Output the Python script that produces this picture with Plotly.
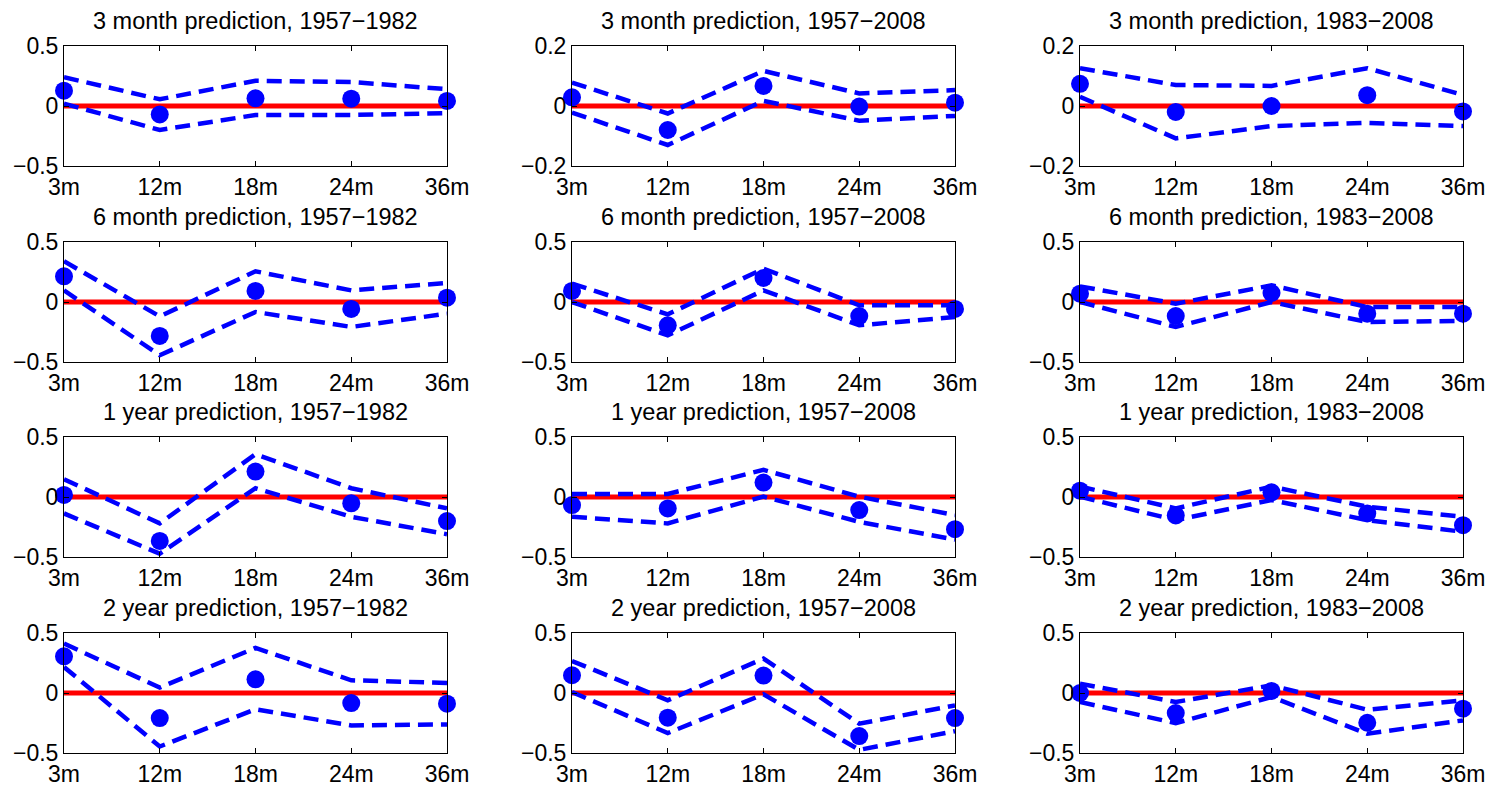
import plotly.graph_objects as go

# ---------------- data ----------------
categories = ["3m", "12m", "18m", "24m", "36m"]
horizons = ["3 month", "6 month", "1 year", "2 year"]
periods = ["1957\u22121982", "1957\u22122008", "1983\u22122008"]
zero_line = [0, 0, 0, 0, 0]

# point estimates per horizon, one list per period (1957-82, 1957-2008, 1983-2008)
est_3month = [[0.128, -0.07, 0.064, 0.061, 0.042],
              [0.029, -0.080, 0.067, -0.002, 0.011],
              [0.074, -0.020, 0.000, 0.036, -0.018]]
upper_3month = [[0.24, 0.056, 0.21, 0.20, 0.14],
                [0.078, -0.025, 0.117, 0.042, 0.053],
                [0.126, 0.070, 0.067, 0.126, 0.037]]
lower_3month = [[0.02, -0.20, -0.075, -0.075, -0.06],
                [-0.022, -0.130, 0.017, -0.049, -0.033],
                [0.031, -0.108, -0.067, -0.056, -0.067]]

est_6month = [[0.214, -0.283, 0.092, -0.058, 0.036],
              [0.092, -0.194, 0.200, -0.117, -0.058],
              [0.069, -0.117, 0.075, -0.097, -0.097]]
upper_6month = [[0.34, -0.12, 0.256, 0.097, 0.158],
                [0.153, -0.103, 0.278, -0.028, -0.028],
                [0.13, -0.014, 0.139, -0.042, -0.042]]
lower_6month = [[0.097, -0.444, -0.083, -0.208, -0.097],
                [0.0, -0.278, 0.097, -0.194, -0.125],
                [0.0, -0.208, 0.0, -0.167, -0.158]]

est_1year = [[0.017, -0.366, 0.212, -0.053, -0.201],
             [-0.067, -0.095, 0.120, -0.109, -0.268],
             [0.053, -0.154, 0.039, -0.137, -0.235]]
upper_1year = [[0.148, -0.22, 0.357, 0.073, -0.095],
               [0.025, 0.025, 0.226, 0.003, -0.15],
               [0.087, -0.095, 0.087, -0.081, -0.165]]
lower_1year = [[-0.137, -0.472, 0.073, -0.165, -0.31],
               [-0.165, -0.22, 0.003, -0.207, -0.355],
               [0.003, -0.193, -0.025, -0.193, -0.29]]

est_2year = [[0.306, -0.209, 0.114, -0.084, -0.089],
             [0.148, -0.206, 0.145, -0.359, -0.209],
             [0.0, -0.167, 0.017, -0.248, -0.131]]
upper_2year = [[0.412, 0.045, 0.376, 0.106, 0.084],
               [0.267, -0.061, 0.287, -0.256, -0.103],
               [0.078, -0.075, 0.064, -0.139, -0.061]]
lower_2year = [[0.217, -0.446, -0.136, -0.27, -0.262],
               [0.008, -0.334, -0.011, -0.474, -0.318],
               [-0.075, -0.251, -0.033, -0.34, -0.228]]

# y-axis tick sets
yticks_wide = [-0.5, 0, 0.5]
yticks_narrow = [-0.2, 0, 0.2]

est_rows = [est_3month, est_6month, est_1year, est_2year]
upper_rows = [upper_3month, upper_6month, upper_1year, upper_2year]
lower_rows = [lower_3month, lower_6month, lower_1year, lower_2year]

# ---------------- layout geometry ----------------
W, H = 1493, 787
col_px = [(64, 447), (572, 955), (1080, 1463)]
row_px = [(46, 166), (242, 362), (437, 557), (633, 753)]

FONT = "Liberation Sans, Arial, Helvetica, sans-serif"
BLUE = "#0000ff"
RED = "#ff0000"

fig = go.Figure()
annotations = []
layout_axes = {}

for r in range(4):
    for c in range(3):
        idx = r * 3 + c + 1
        sfx = "" if idx == 1 else str(idx)
        xref, yref = "x" + sfx, "y" + sfx

        narrow = (r == 0 and c in (1, 2))
        yt = yticks_narrow if narrow else yticks_wide
        yrange = [yt[0], yt[-1]]
        ytext = [("\u2212" + str(abs(v))) if v < 0 else str(v) for v in yt]

        fig.add_trace(go.Scatter(x=categories, y=zero_line, mode="lines",
                                 line=dict(color=RED, width=5),
                                 xaxis=xref, yaxis=yref, hoverinfo="skip"))
        fig.add_trace(go.Scatter(x=categories, y=upper_rows[r][c], mode="lines",
                                 line=dict(color=BLUE, width=4.5, dash="15px,8px"),
                                 xaxis=xref, yaxis=yref))
        fig.add_trace(go.Scatter(x=categories, y=lower_rows[r][c], mode="lines",
                                 line=dict(color=BLUE, width=4.5, dash="15px,8px"),
                                 xaxis=xref, yaxis=yref))
        fig.add_trace(go.Scatter(x=categories, y=est_rows[r][c], mode="markers",
                                 marker=dict(color=BLUE, size=18, symbol="circle"),
                                 cliponaxis=False,
                                 xaxis=xref, yaxis=yref))

        x0, x1 = col_px[c]
        y0, y1 = row_px[r]
        common = dict(showline=True, linecolor="black", linewidth=1, mirror="ticks",
                      ticks="inside", ticklen=5, tickcolor="black", showgrid=False,
                      zeroline=False, automargin=False,
                      tickfont=dict(family=FONT, size=23, color="black"))
        layout_axes["xaxis" + sfx] = dict(domain=[x0 / W, x1 / W], anchor=yref,
                                          type="category", range=[0, 4],
                                          categoryorder="array", categoryarray=categories,
                                          **common)
        layout_axes["yaxis" + sfx] = dict(domain=[1 - y1 / H, 1 - y0 / H], anchor=xref,
                                          range=yrange, tickvals=yt, ticktext=ytext,
                                          **common)
        annotations.append(dict(text=f"{horizons[r]} prediction, {periods[c]}",
                                x=(x0 + x1) / 2 / W, y=1 - (y0 - 25) / H,
                                xref="paper", yref="paper", showarrow=False,
                                xanchor="center", yanchor="middle",
                                font=dict(family=FONT, size=23.5, color="black")))

fig.update_layout(width=W, height=H, margin=dict(l=0, r=0, t=0, b=0),
                  paper_bgcolor="white", plot_bgcolor="white",
                  showlegend=False, annotations=annotations, **layout_axes)

fig.write_html("out.html")
